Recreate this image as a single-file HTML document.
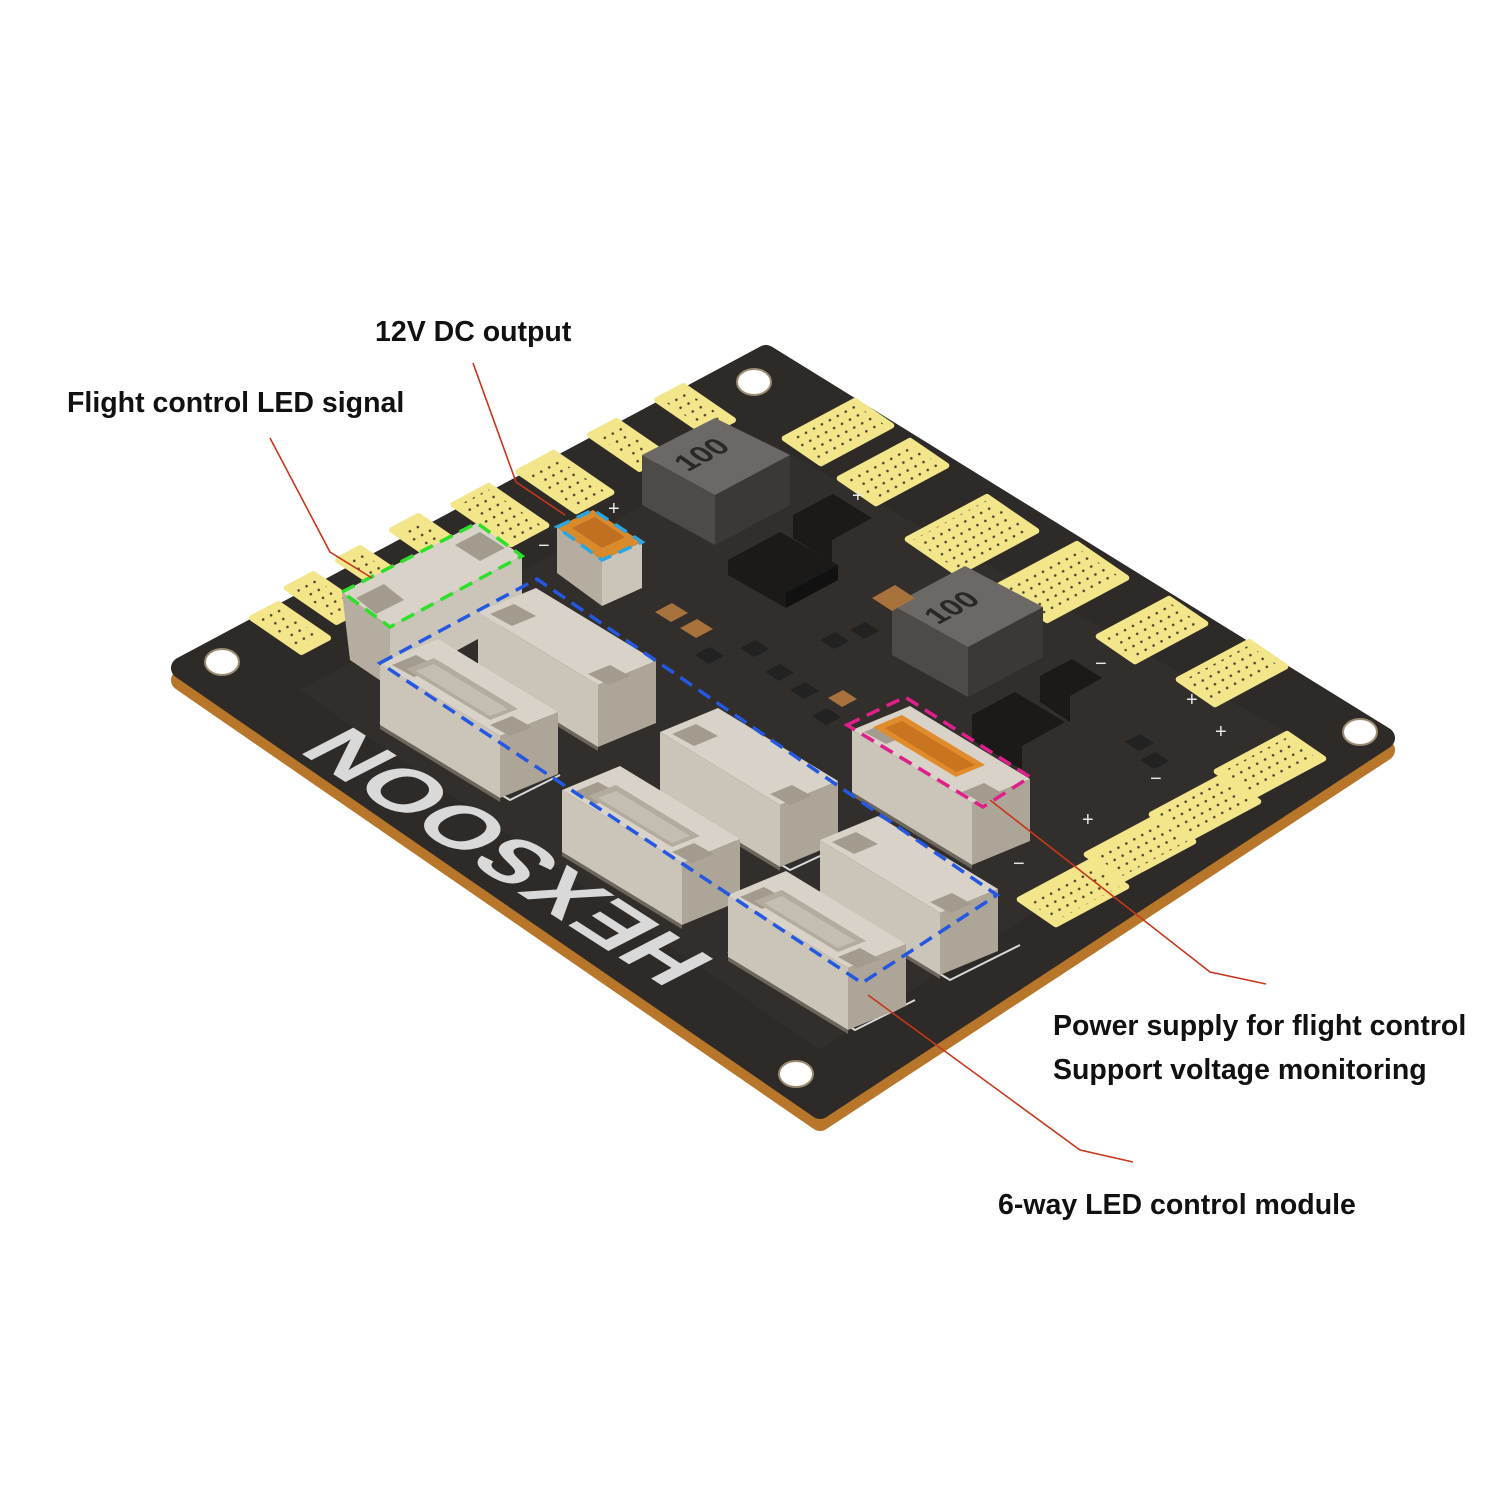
<!DOCTYPE html>
<html><head><meta charset="utf-8"><style>
html,body{margin:0;padding:0;background:#fff;}
svg{display:block;}
.lb{font-family:"Liberation Sans",sans-serif;font-weight:bold;font-size:28.5px;fill:#111;}
</style></head><body>
<svg width="1500" height="1500" viewBox="0 0 1500 1500" xmlns="http://www.w3.org/2000/svg">
<defs>
<pattern id="dots" width="9" height="9" patternUnits="userSpaceOnUse" patternTransform="rotate(-28)">
<rect width="9" height="9" fill="#f3e58a"/><circle cx="4.5" cy="4.5" r="1.3" fill="#4a4230"/>
</pattern>
<g id="cn">
<polygon points="0,0 58,-24 178,49 120,73" fill="#d8d2c8"/>
<polygon points="0,0 120,73 120,135 0,62" fill="#cbc4b8"/>
<polygon points="120,73 178,49 178,111 120,135" fill="#ada597"/>
<polygon points="12,2 36,-8 58,4 34,14" fill="#a39b8e"/>
<polygon points="110,62 132,53 152,64 130,73" fill="#a39b8e"/>
<polygon points="0,62 120,135 120,139 0,66" fill="#6d665c"/>
</g>
<g id="cno">
<use href="#cn"/>
<polygon points="26,6 54,-5 138,46 110,57" fill="#b3ab9d"/>
<polygon points="36,8 54,1 128,46 110,53" fill="#c4bdb1"/>
</g>
</defs>
<rect width="1500" height="1500" fill="#fff"/>

<polygon points="182,680 766,368 1384,750 820,1120" fill="#b8762a" stroke="#b8762a" stroke-width="22" stroke-linejoin="round"/>
<polygon points="182,668 766,356 1384,738 820,1108" fill="#2d2a27" stroke="#2d2a27" stroke-width="22" stroke-linejoin="round"/>
<polygon points="300,690 766,440 1300,740 820,1050" fill="#312e2b"/>

<g fill="#fff" stroke="#9a8a70" stroke-width="2">
<ellipse cx="222" cy="662" rx="17" ry="13"/>
<ellipse cx="754" cy="382" rx="17" ry="13"/>
<ellipse cx="1360" cy="732" rx="17" ry="13"/>
<ellipse cx="796" cy="1074" rx="17" ry="13"/>
</g>

<g fill="url(#dots)" stroke="#f3e58a" stroke-width="6" stroke-linejoin="round">
<polygon points="252,618 278.5,604 328,638 301.5,652"/>
<polygon points="287,588 313.5,574 363,608 336.5,622"/>
<polygon points="338,560 360,548 402,576 380,588"/>
<polygon points="392,530 418.5,516 468,550 441.5,564"/>
<polygon points="453.6,504.6 488.8,485.8 546.4,525.4 511.2,544.2"/>
<polygon points="518.6,471.6 553.8,452.8 611.4,492.4 576.2,511.2"/>
<polygon points="590,435 616.5,421 666,455 639.5,469"/>
<polygon points="657,400 683.5,386 733,420 706.5,434"/>
</g>
<g fill="url(#dots)" stroke="#f3e58a" stroke-width="6" stroke-linejoin="round">
<polygon points="784.7,438.4 855.1,400.8 891.3,425.6 820.9,463.3"/>
<polygon points="839.7,478.4 910.1,440.8 946.3,465.6 875.9,503.3"/>
<polygon points="907.7,539.2 986.9,496.9 1036.3,530.9 957.1,573.2"/>
<polygon points="997.7,586.2 1076.9,543.9 1126.3,577.9 1047.1,620.2"/>
<polygon points="1098.7,636.4 1169.1,598.8 1205.3,623.6 1134.9,661.3"/>
<polygon points="1178.7,679.4 1249.1,641.8 1285.3,666.6 1214.9,704.3"/>
<polygon points="1216.7,771.4 1287.1,733.8 1323.3,758.6 1252.9,796.3"/>
<polygon points="1151.7,814.4 1222.1,776.8 1258.3,801.6 1187.9,839.3"/>
<polygon points="1086.7,854.4 1157.1,816.8 1193.3,841.6 1122.9,879.3"/>
<polygon points="1019.7,899.4 1090.1,861.8 1126.3,886.6 1055.9,924.3"/>
</g>
<g font-family="Liberation Sans,sans-serif" font-size="20" fill="#e8e8e8">
<text x="852" y="502">+</text><text x="608" y="515">+</text><text x="538" y="552">−</text>
<text x="1215" y="738">+</text><text x="1150" y="785">−</text><text x="1082" y="826">+</text><text x="1186" y="706">+</text><text x="1013" y="870">−</text><text x="1095" y="670">−</text>
</g>

<text transform="matrix(-0.84,-0.54,0.888,-0.458,718,962)" font-family="Liberation Sans,sans-serif" font-weight="bold" font-size="84" fill="#d9d9d9" textLength="440" lengthAdjust="spacingAndGlyphs">HEXSOON</text>

<polygon points="642,505 715,545 790,505 790,455 715,495 642,455" fill="#4d4a47"/>
<polygon points="715,495 715,545 790,505 790,455" fill="#3b3937"/>
<polygon points="642,455 715,418 790,455 715,495" fill="#6b6865"/>
<text transform="matrix(0.88,-0.47,0.82,0.57,688,472)" font-family="Liberation Sans,sans-serif" font-weight="bold" font-size="30" fill="#2a2826">100</text>
<polygon points="892,655 968,697 1043,657 1043,607 968,647 892,605" fill="#4d4a47"/>
<polygon points="968,647 968,697 1043,657 1043,607" fill="#3b3937"/>
<polygon points="892,605 965,566 1043,607 968,647" fill="#6b6865"/>
<text transform="matrix(0.88,-0.47,0.82,0.57,938,625)" font-family="Liberation Sans,sans-serif" font-weight="bold" font-size="30" fill="#2a2826">100</text>

<g fill="#1b1a19">
<polygon points="728,560 780,532 838,565 786,593 786,608 728,575"/>
<polygon points="786,593 838,565 838,580 786,608" fill="#111"/>
<polygon points="793,515 833,494 872,518 832,540 832,562 793,538"/>
<polygon points="972,715 1015,692 1065,722 1022,746 1022,770 972,740"/>
<polygon points="1040,676 1072,659 1102,678 1070,696 1070,722 1040,702"/>
</g>
<g>
<polygon points="655,612 672,603 688,613 671,622" fill="#a8723c"/>
<polygon points="680,628 697,619 713,629 696,638" fill="#a8723c"/>
<polygon points="695,655 710,647 724,656 709,664" fill="#222"/>
<polygon points="740,648 755,640 769,649 754,657" fill="#222"/>
<polygon points="765,672 780,664 794,673 779,681" fill="#222"/>
<polygon points="790,690 805,682 819,691 804,699" fill="#222"/>
<polygon points="812,716 827,708 841,717 826,725" fill="#222"/>
<polygon points="828,698 843,690 857,699 842,707" fill="#a8723c"/>
<polygon points="872,598 895,585 915,598 892,611" fill="#a8723c"/>
<polygon points="1125,742 1140,734 1154,743 1139,751" fill="#222"/>
<polygon points="1140,760 1155,752 1169,761 1154,769" fill="#222"/>
<polygon points="850,630 865,622 879,631 864,639" fill="#222"/>
<polygon points="820,640 835,632 849,641 834,649" fill="#222"/>
</g>

<g fill="none" stroke="#d8d8d8" stroke-width="2">
<polyline points="660,792 790,870 850,842"/>
<polyline points="728,952 855,1030 915,1000"/>
<polyline points="820,902 950,980 1020,945"/>
<polyline points="380,722 510,800 560,775"/>
</g>

<polygon points="390,627 522,556 522,615 390,687" fill="#cbc4b8"/>
<polygon points="342,592 390,627 390,687 350,660" fill="#b5ad9f"/>
<polygon points="342,592 477,523 522,556 390,627" fill="#d8d2c8"/>
<polygon points="356,598 384,584 404,600 376,614" fill="#a39b8e"/>
<polygon points="455,545 480,532 505,548 480,561" fill="#a39b8e"/>
<polygon points="557,527 602,560 602,606 557,573" fill="#b5ad9f"/>
<polygon points="602,560 642,542 642,588 602,606" fill="#cbc4b8"/>
<polygon points="557,527 593,510 642,542 602,560" fill="#d98a2a"/>
<polygon points="572,528 595,517 625,537 602,548" fill="#c07020"/>

<use href="#cn" x="478" y="612"/>
<use href="#cno" x="380" y="663"/>
<use href="#cn" x="660" y="732"/>
<use href="#cno" x="562" y="790"/>
<use href="#cn" x="852" y="730"/>
<polygon points="873,727 902,715 985,765 956,777" fill="#e08c2c"/>
<polygon points="885,728 902,721 975,765 956,772" fill="#c9741e"/>
<use href="#cn" x="820" y="840"/>
<use href="#cno" x="728" y="895"/>

<g fill="none" stroke-width="3.5" stroke-dasharray="14,8">
<polygon points="342,592 477,523 522,556 390,627" stroke="#2fe02a"/>
<polygon points="557,527 593,510 642,542 602,560" stroke="#2aa6e0"/>
<polygon points="380,663 537,579 997,895 862,983" stroke="#2458e0"/>
<polygon points="847,725 905,697 1030,777 983,807" stroke="#e0208a"/>
</g>

<g fill="none" stroke="#c8361c" stroke-width="1.6">
<polyline points="473,363 516,482 565,515"/>
<polyline points="270,438 330,552 372,578"/>
<polyline points="1266,984 1210,972 990,800"/>
<polyline points="1133,1162 1080,1150 868,995"/>
</g>

<text class="lb" x="375" y="341">12V DC output</text>
<text class="lb" x="67" y="412">Flight control LED signal</text>
<text class="lb" x="1053" y="1035">Power supply for flight control</text>
<text class="lb" x="1053" y="1079">Support voltage monitoring</text>
<text class="lb" x="998" y="1214">6-way LED control module</text>
</svg>
</body></html>
